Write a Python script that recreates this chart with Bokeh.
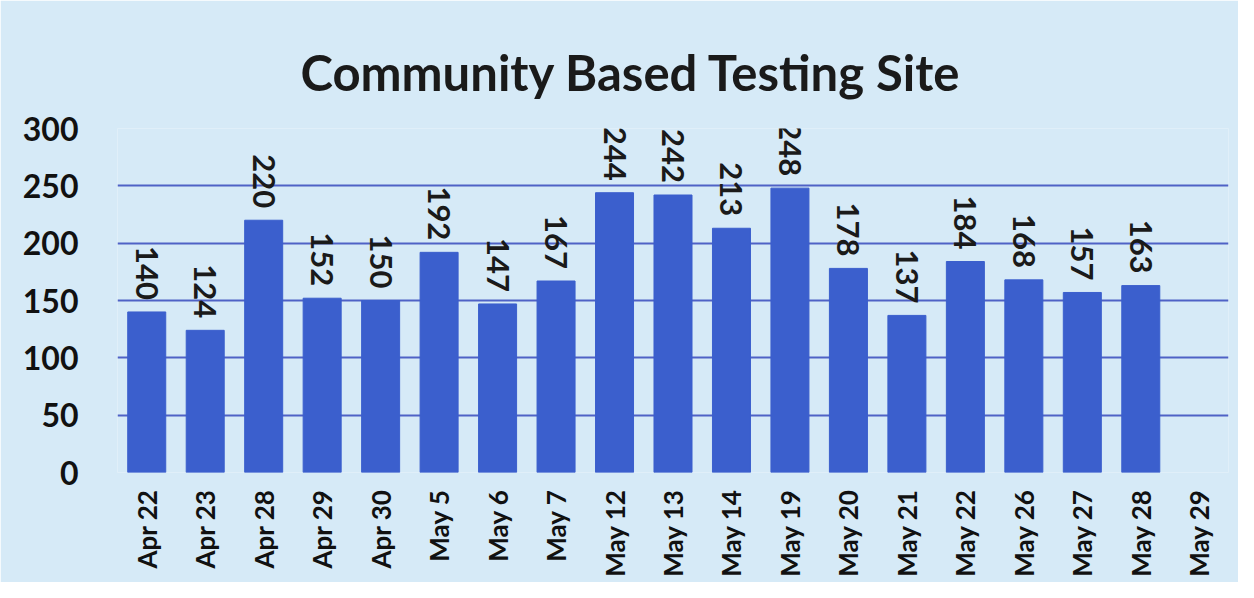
import math
from bokeh.plotting import figure
from bokeh.models import ColumnDataSource, FactorRange, Range1d
from bokeh.embed import file_html
from bokeh.resources import INLINE
from bokeh.core.properties import value

title_text = "Community Based Testing Site"
dates = ["Apr 22", "Apr 23", "Apr 28", "Apr 29", "Apr 30", "May 5", "May 6", "May 7",
         "May 12", "May 13", "May 14", "May 19", "May 20", "May 21", "May 22",
         "May 26", "May 27", "May 28", "May 29"]
tests = [140, 124, 220, 152, 150, 192, 147, 167, 244, 242, 213, 248, 178, 137, 184,
         168, 157, 163, None]
y_ticks = [0, 50, 100, 150, 200, 250, 300]

bg = "#d6eaf7"
bar_color = "#3b5fcd"
grid_color = "#4f62c6"

xs = [d for d, v in zip(dates, tests) if v is not None]
vs = [v for v in tests if v is not None]
src = ColumnDataSource(dict(x=xs, top=vs, label=[str(v) for v in vs]))

p = figure(width=1238, height=582, output_backend="svg", toolbar_location=None,
           x_range=FactorRange(*dates, range_padding=0), y_range=Range1d(0, 300),
           min_border_left=117, min_border_right=10, min_border_top=128,
           min_border_bottom=110)
p.background_fill_color = bg
p.border_fill_color = bg
p.outline_line_color = None

p.title.text = title_text
p.title.align = "left"
p.title.offset = 183
p.title.standoff = 53
p.title.vertical_align = "middle"
p.title.text_font = "Lato"
p.title.text_font_style = "bold"
p.title.text_font_size = "49px"
p.title.text_color = "#1a1a1a"

p.vbar(x="x", top="top", width=0.65, source=src, color=bar_color)
p.text(x="x", y="top", text="label", source=src, angle=-math.pi / 2,
       text_align="right", text_baseline="middle", y_offset=-12,
       text_font=value("Lato"), text_font_style="bold", text_font_size="31px",
       text_color="#1a1a1a")

p.xgrid.grid_line_color = None
p.ygrid.grid_line_color = grid_color
p.ygrid.grid_line_width = 1.8
p.yaxis.ticker = y_ticks

for ax in (p.xaxis, p.yaxis):
    ax.axis_line_color = None
    ax.major_tick_line_color = None
    ax.minor_tick_line_color = None
    ax.major_label_text_font = "Lato"
    ax.major_label_text_font_style = "bold"
    ax.major_label_text_color = "#111111"

p.yaxis.major_label_text_font_size = "32px"
p.yaxis.major_label_standoff = 33
p.xaxis.major_label_text_font_size = "26px"
p.xaxis.major_label_orientation = math.pi / 2
p.xaxis.major_label_standoff = 11

open("out.html", "w").write(file_html(p, INLINE))
